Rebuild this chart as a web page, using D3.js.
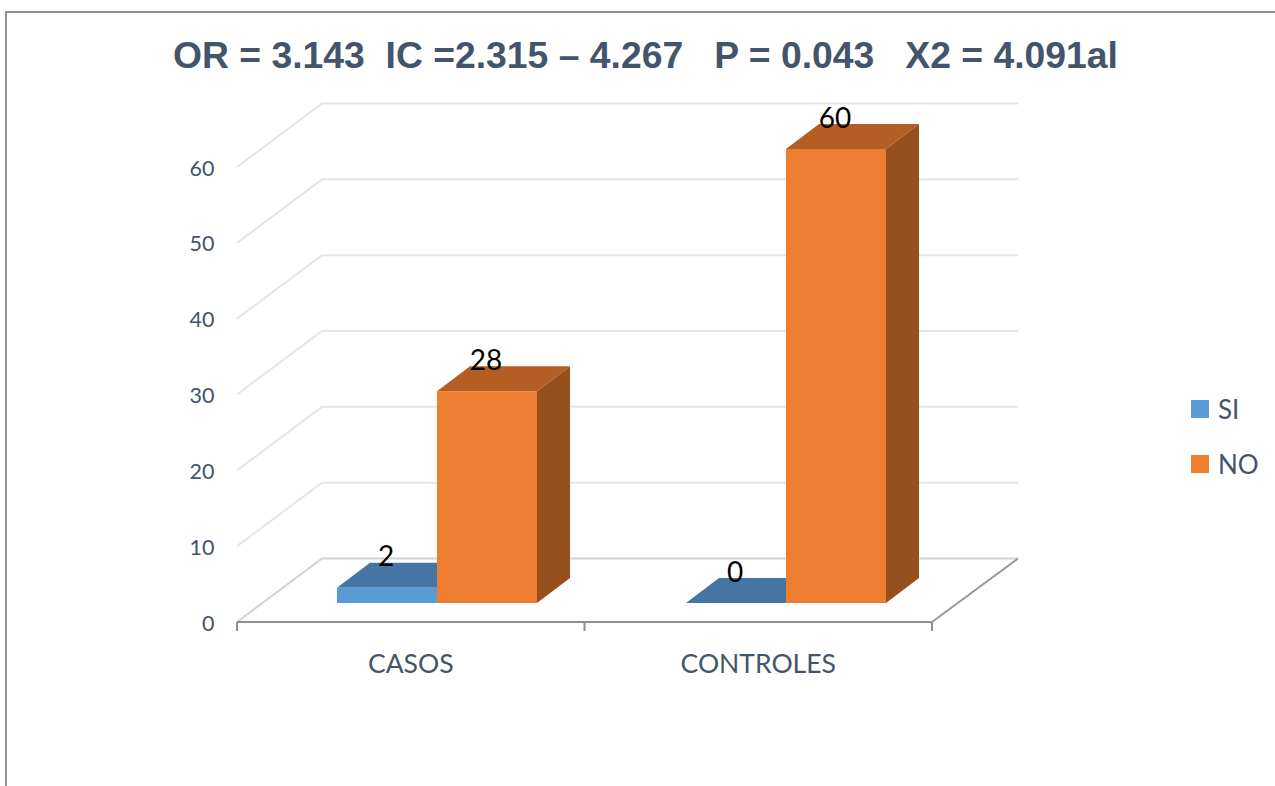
<!DOCTYPE html>
<html>
<head>
<meta charset="utf-8">
<script src="https://cdn.jsdelivr.net/npm/d3@7/dist/d3.min.js"></script>
<style>
html,body{margin:0;padding:0;background:#fff;overflow:hidden}
svg{display:block}
text{white-space:pre}
</style>
</head>
<body>
<svg id="c" width="1275" height="786"></svg>
<script>
const titleText = "OR = 3.143  IC =2.315 \u2013 4.267   P = 0.043   X2 = 4.091al";
const categories = ["CASOS", "CONTROLES"];
const seriesNames = ["SI", "NO"];
const siValues = [2, 0];
const noValues = [28, 60];
const tickValues = [0, 10, 20, 30, 40, 50, 60];
const seriesColors = {
  SI: {front:"#5b9bd5", top:"#4475a3", side:"#3f6f9c"},
  NO: {front:"#ed7d31", top:"#b55e23", side:"#974f1d"}
};
const textColor = "#44546a";
const labelFont = "Lato, 'Open Sans', sans-serif";

const svg = d3.select("#c");

// Frame
svg.append("path").attr("d", d3.line()([[6,786],[6,12],[1275,12]]))
  .attr("fill","none").attr("stroke","#8f8f8f").attr("stroke-width",2);

// Title
svg.append("text").attr("x",645.5).attr("y",68).attr("text-anchor","middle")
  .attr("font-family","'Liberation Sans', Arial, sans-serif").attr("font-weight","bold")
  .attr("font-size",37.3).attr("fill",textColor).text(titleText);

// Scales
const yFront = d3.scaleLinear().domain([0,60]).range([622,167]);
const yBack  = d3.scaleLinear().domain([0,60]).range([558.5,103.5]);
const yBar   = d3.scaleLinear().domain([0,60]).range([603,149]);
const xAxisScale = d3.scaleBand().domain(categories).range([237,932]);
const x0 = d3.scaleBand().domain(categories).range([237,935]);
const x1 = d3.scaleBand().domain(seriesNames).range([100,300]);
const wall = {left:237, backLeft:322, backRight:1018, floorRight:932};
const depth = {x:33, y:25};

// Gridlines on walls
svg.append("g").selectAll("path").data(tickValues).join("path")
  .attr("d", v => d3.line()([[wall.left,yFront(v)],[wall.backLeft,yBack(v)],[wall.backRight,yBack(v)]]))
  .attr("fill","none").attr("stroke", v => v===0 ? "#d2d3d6" : "#e4e5e9").attr("stroke-width",2);

// Floor right edge
svg.append("path").attr("d", d3.line()([[wall.floorRight,yFront(0)],[wall.backRight,yBack(0)]]))
  .attr("fill","none").attr("stroke","#989898").attr("stroke-width",2);

// Category axis
const axisG = svg.append("g");
const axisXs = [xAxisScale.range()[0], ...categories.map(c => xAxisScale(c)+xAxisScale.bandwidth())];
axisG.append("line").attr("x1",axisXs[0]).attr("x2",axisXs[2]).attr("y1",yFront(0)).attr("y2",yFront(0))
  .attr("stroke","#8f8f8f").attr("stroke-width",2);
axisG.selectAll("line.t").data(axisXs).join("line").attr("class","t")
  .attr("x1",d=>d).attr("x2",d=>d).attr("y1",yFront(0)).attr("y2",yFront(0)+9)
  .attr("stroke","#8f8f8f").attr("stroke-width",2);
axisG.selectAll("text").data(categories).join("text")
  .attr("x",c=>xAxisScale(c)+xAxisScale.bandwidth()/2).attr("y",673)
  .attr("text-anchor","middle").attr("font-family",labelFont).attr("font-size",26.5)
  .attr("fill",textColor).text(c=>c);

// Value axis labels
svg.append("g").selectAll("text").data(tickValues).join("text")
  .attr("x",214.5).attr("y",v=>yFront(v)+8.5).attr("text-anchor","end")
  .attr("font-family",labelFont).attr("font-size",21.5).attr("fill",textColor).text(v=>v);

// Bars
const barData = [];
seriesNames.forEach((s,si)=>{
  const vals = si===0 ? siValues : noValues;
  categories.forEach((c,i)=>barData.push({series:s,cat:c,value:vals[i]}));
});
const bars = svg.append("g").selectAll("g").data(barData).join("g");
const bx = d => x0(d.cat)+x1(d.series);
const bw = x1.bandwidth();
// side
bars.append("path").attr("fill",d=>seriesColors[d.series].side)
  .attr("d",d=>{const x=bx(d)+bw,t=yBar(d.value),b=yBar(0);
    return d3.line()([[x,b],[x,t],[x+depth.x,t-depth.y],[x+depth.x,b-depth.y]])+"Z";});
// top
bars.append("path").attr("fill",d=>seriesColors[d.series].top)
  .attr("d",d=>{const x=bx(d),t=yBar(d.value);
    return d3.line()([[x,t],[x+bw,t],[x+bw+depth.x,t-depth.y],[x+depth.x,t-depth.y]])+"Z";});
// front
bars.append("rect").attr("fill",d=>seriesColors[d.series].front)
  .attr("x",bx).attr("y",d=>yBar(d.value)).attr("width",bw)
  .attr("height",d=>yBar(0)-yBar(d.value));

// Data labels
svg.append("g").selectAll("text").data(barData).join("text")
  .attr("x",d=>bx(d)+bw/2-1).attr("y",d=>yBar(d.value)-depth.y-6+9.5)
  .attr("text-anchor","middle").attr("font-family",labelFont).attr("font-size",28)
  .attr("fill","#000").text(d=>d.value);

// Legend
const legendY = d3.scalePoint().domain(seriesNames).range([409,464]);
const lg = svg.append("g").selectAll("g").data(seriesNames).join("g");
lg.append("rect").attr("x",1191).attr("y",s=>legendY(s)-9).attr("width",18).attr("height",18)
  .attr("fill",s=>seriesColors[s].front);
lg.append("text").attr("x",1218).attr("y",s=>legendY(s)+9.5)
  .attr("font-family",labelFont).attr("font-size",26).attr("fill",textColor).text(s=>s);
</script>
</body>
</html>
